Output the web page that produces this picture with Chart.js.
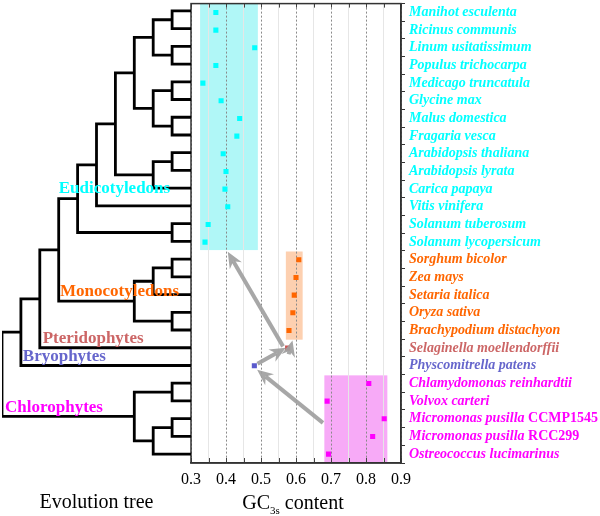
<!DOCTYPE html>
<html>
<head>
<meta charset="utf-8">
<script src="https://cdn.jsdelivr.net/npm/chart.js@4"></script>
<style>
  html, body { margin: 0; padding: 0; background: #fff; overflow: hidden; }
  #wrap { position: relative; width: 600px; height: 516px; }
  canvas { position: absolute; top: 0; left: 0; }
</style>
</head>
<body>
<div id="wrap">
  <canvas id="main" width="600" height="516"></canvas>
  <canvas id="tree" width="191" height="516"></canvas>
</div>
<script>
// ---------------- data ----------------
const species = [
  'Manihot esculenta', 'Ricinus communis', 'Linum usitatissimum', 'Populus trichocarpa',
  'Medicago truncatula', 'Glycine max', 'Malus domestica', 'Fragaria vesca',
  'Arabidopsis thaliana', 'Arabidopsis lyrata', 'Carica papaya', 'Vitis vinifera',
  'Solanum tuberosum', 'Solanum lycopersicum',
  'Sorghum bicolor', 'Zea mays', 'Setaria italica', 'Oryza sativa', 'Brachypodium distachyon',
  'Selaginella moellendorffii', 'Physcomitrella patens',
  'Chlamydomonas reinhardtii', 'Volvox carteri', 'Micromonas pusilla', 'Micromonas pusilla',
  'Ostreococcus lucimarinus'
];
const strains = ['', '', '', '', '', '', '', '', '', '', '', '', '', '',
  '', '', '', '', '', '', '', '', '', 'CCMP1545', 'RCC299', ''];
const gc3s = [
  0.371, 0.371, 0.482, 0.371, 0.334, 0.386, 0.439, 0.431, 0.392, 0.400, 0.397, 0.405,
  0.349, 0.340,
  0.608, 0.600, 0.595, 0.591, 0.580,
  0.576, 0.481,
  0.808, 0.689, 0.852, 0.819, 0.693
];
const groupOf = [0,0,0,0,0,0,0,0,0,0,0,0,0,0, 1,1,1,1,1, 2, 3, 4,4,4,4,4];
const groupNames = ['Eudicotyledons', 'Monocotyledons', 'Pteridophytes', 'Bryophytes', 'Chlorophytes'];
const groupColors = ['#00ffff', '#ff6600', '#cc6666', '#6666cc', '#ff00ff'];
const pointColors = ['#00ffff', '#ff6600', '#cc5555', '#5a5acc', '#ff00ff'];
// GC3s ranges of the shaded boxes (x range) and the rows they span
const boxGC = [[0.326, 0.491], [0.571, 0.619], [0.681, 0.861]];
const boxRows = [[0.5, 14.45], [14.53, 19.52], [21.54, 26.5]];
const boxColors = ['#b0f7f7', '#fdd0b0', '#f7aaf7'];
// arrows: [gcFrom, rowFrom, gcTo, rowTo]
const arrows = [
  [0.563, 19.9, 0.405, 14.55],
  [0.490, 20.88, 0.571, 19.98],
  [0.579, 20.35, 0.590, 19.56],
  [0.677, 24.23, 0.489, 21.22]
];
const xTickStep = 0.05;
// phylogeny: leaves are row numbers, internal nodes have a depth level l (0 = root, 10 = tips)
const tree = {l:0, c:[
  {l:1, c:[
    {l:2, c:[
      {l:3, c:[
        {l:4, c:[
          {l:5, c:[
            {l:6, c:[
              {l:7, c:[
                {l:8, c:[{l:9, c:[1,2]}, {l:9, c:[3,4]}]},
                {l:8, c:[{l:9, c:[5,6]}, {l:9, c:[7,8]}]}
              ]},
              {l:8, c:[{l:9, c:[9,10]}, 11]}
            ]},
            12
          ]},
          {l:9, c:[13,14]}
        ]},
        {l:7, c:[{l:8, c:[{l:9, c:[15,16]}, 17]}, {l:9, c:[18,19]}]}
      ]},
      20
    ]},
    21
  ]},
  {l:7, c:[{l:9, c:[22,23]}, {l:8, c:[{l:9, c:[24,25]}, 26]}]}
]};
const tipLevel = 10;
// group label anchor (tree level, row)
const groupLabelPos = [[3.0, 11.05], [3.07, 16.84], [2.15, 19.5], [1.1, 20.5], [0.16, 23.38]];

// ---------------- helpers ----------------
const SERIF = "'Liberation Serif', 'Times New Roman', serif";
const isMajor = v => Math.abs(Math.round(v * 10) - v * 10) < 1e-6;
const nRows = species.length;

function drawArrow(ctx, x0, y0, x1, y1) {
  const a = Math.atan2(y1 - y0, x1 - x0);
  const hl = 16, hw = 14, notch = 11;
  const ca = Math.cos(a), sa = Math.sin(a);
  const bx = x1 - notch * ca, by = y1 - notch * sa;
  ctx.beginPath();
  ctx.moveTo(x0, y0);
  ctx.lineTo(bx, by);
  ctx.stroke();
  const rx = x1 - hl * ca, ry = y1 - hl * sa;
  ctx.beginPath();
  ctx.moveTo(x1, y1);
  ctx.lineTo(rx + hw / 2 * sa, ry - hw / 2 * ca);
  ctx.lineTo(bx, by);
  ctx.lineTo(rx - hw / 2 * sa, ry + hw / 2 * ca);
  ctx.closePath();
  ctx.fill();
}

const mainPlugin = {
  id: 'mainDeco',
  beforeDraw(chart) {
    const {ctx, scales: {x, y}} = chart;
    ctx.save();
    boxGC.forEach((b, i) => {
      const x0 = x.getPixelForValue(b[0]), x1 = x.getPixelForValue(b[1]);
      const y0 = y.getPixelForValue(boxRows[i][0]), y1 = y.getPixelForValue(boxRows[i][1]);
      ctx.fillStyle = boxColors[i];
      ctx.fillRect(x0, y0, x1 - x0, y1 - y0);
    });
    ctx.restore();
  },
  afterDatasetsDraw(chart) {
    const {ctx, scales: {x, y}} = chart;
    ctx.save();
    ctx.strokeStyle = 'rgba(160,160,160,0.92)';
    ctx.fillStyle = 'rgba(160,160,160,0.92)';
    ctx.lineWidth = 4;
    arrows.forEach(a => drawArrow(ctx, x.getPixelForValue(a[0]), y.getPixelForValue(a[1]),
                                       x.getPixelForValue(a[2]), y.getPixelForValue(a[3])));
    ctx.restore();
  },
  afterDraw(chart) {
    const {ctx, chartArea: ca, scales: {x, y}} = chart;
    ctx.save();
    // inner ticks top & bottom
    ctx.strokeStyle = '#444';
    ctx.lineWidth = 1;
    x.ticks.forEach(t => {
      const px = Math.round(x.getPixelForValue(t.value)) + 0.5;
      ctx.beginPath();
      ctx.moveTo(px, ca.bottom); ctx.lineTo(px, ca.bottom - 5);
      ctx.moveTo(px, ca.top); ctx.lineTo(px, ca.top + 4);
      ctx.stroke();
    });
    // frame
    ctx.strokeStyle = '#333';
    ctx.lineWidth = 1.5;
    ctx.strokeRect(ca.left, ca.top, ca.right - ca.left, ca.bottom - ca.top);
    // species labels
    ctx.textBaseline = 'middle';
    ctx.textAlign = 'left';
    species.forEach((s, i) => {
      const py = y.getPixelForValue(i + 1);
      const px = ca.right + 8;
      ctx.fillStyle = groupColors[groupOf[i]];
      ctx.font = 'italic bold 14px ' + SERIF;
      ctx.fillText(s, px, py);
      if (strains[i]) {
        const w = ctx.measureText(s + ' ').width;
        ctx.font = 'bold 14px ' + SERIF;
        ctx.fillText(strains[i], px + w, py);
      }
    });
    // x title GC3s content
    ctx.fillStyle = '#000';
    ctx.textBaseline = 'alphabetic';
    ctx.font = '20px ' + SERIF;
    const wGC = ctx.measureText('GC').width;
    const wC = ctx.measureText(' content').width;
    ctx.font = '11px ' + SERIF;
    const wSub = ctx.measureText('3s').width;
    const total = wGC + wSub + wC;
    let sx = (ca.left + ca.right) / 2 - 3 - total / 2;
    const base = 509;
    ctx.font = '20px ' + SERIF;
    ctx.fillText('GC', sx, base);
    ctx.font = '11px ' + SERIF;
    ctx.fillText('3s', sx + wGC, base + 5);
    ctx.font = '20px ' + SERIF;
    ctx.fillText(' content', sx + wGC + wSub, base);
    ctx.restore();
  }
};

const mainChart = new Chart(document.getElementById('main'), {
  type: 'scatter',
  data: {
    datasets: groupNames.map((g, gi) => ({
      label: g,
      data: gc3s.map((v, i) => ({x: v, y: i + 1, g: groupOf[i]})).filter(p => p.g === gi),
      backgroundColor: pointColors[gi],
      borderWidth: 0,
      pointStyle: 'rect',
      pointRadius: 3.6,
      pointHoverRadius: 3.6
    }))
  },
  options: {
    responsive: false,
    animation: false,
    events: [],
    layout: {padding: {left: 191, top: 2, right: 0, bottom: 0}},
    plugins: {legend: {display: false}, tooltip: {enabled: false}},
    scales: {
      x: {
        type: 'linear', min: 0.3, max: 0.9, position: 'bottom',
        afterFit: s => { s.height = 53; },
        ticks: {
          stepSize: xTickStep, autoSkip: false, maxRotation: 0, padding: 7,
          color: '#000', font: {family: SERIF, size: 16},
          callback: v => isMajor(v) ? v.toFixed(1) : ''
        },
        grid: {
          drawTicks: false, lineWidth: 1,
          color: c => (c.tick && isMajor(c.tick.value)) ? '#8a8a8a' : '#e6e6e6'
        },
        border: {
          display: true, color: '#333', width: 1.5,
          dash: c => (c.tick && isMajor(c.tick.value)) ? [2, 2] : []
        }
      },
      y: {
        type: 'linear', position: 'right', min: 0.5, max: nRows + 0.5, reverse: true,
        afterFit: s => { s.width = 199; },
        ticks: {stepSize: 1, includeBounds: false, display: false},
        grid: {drawOnChartArea: false, drawTicks: true, tickLength: 4, color: '#333', lineWidth: 1},
        border: {display: true, color: '#333', width: 1.5}
      }
    }
  },
  plugins: [mainPlugin]
});

// ---------------- tree ----------------
const treePts = [];
function build(node) {
  if (typeof node === 'number') return {y: node, l: tipLevel};
  const ch = node.c.map(build);
  treePts.push({x: ch[0].l, y: ch[0].y}, {x: node.l, y: ch[0].y},
               {x: node.l, y: ch[1].y}, {x: ch[1].l, y: ch[1].y},
               {x: node.l, y: null});
  return {y: (ch[0].y + ch[1].y) / 2, l: node.l};
}
build(tree);

const treePlugin = {
  id: 'treeDeco',
  afterDatasetsDraw(chart) {
    const {ctx, scales: {x, y}} = chart;
    ctx.save();
    ctx.font = 'bold 17px ' + SERIF;
    ctx.textBaseline = 'middle';
    ctx.textAlign = 'left';
    groupNames.forEach((g, i) => {
      ctx.fillStyle = groupColors[i];
      ctx.fillText(g, x.getPixelForValue(groupLabelPos[i][0]), y.getPixelForValue(groupLabelPos[i][1]));
    });
    ctx.restore();
  },
  afterDraw(chart) {
    const {ctx, chartArea: ca} = chart;
    ctx.save();
    ctx.font = '20px ' + SERIF;
    ctx.fillStyle = '#000';
    ctx.textAlign = 'center';
    ctx.textBaseline = 'alphabetic';
    ctx.fillText('Evolution tree', (ca.left + ca.right) / 2, 508);
    ctx.restore();
  }
};

new Chart(document.getElementById('tree'), {
  type: 'line',
  data: {
    datasets: [{
      data: treePts,
      borderColor: '#000',
      borderWidth: 2.8,
      borderJoinStyle: 'miter',
      borderCapStyle: 'butt',
      pointRadius: 0,
      tension: 0,
      spanGaps: false,
      fill: false
    }]
  },
  options: {
    responsive: false,
    animation: false,
    events: [],
    layout: {padding: {left: 2, right: 0, top: 2, bottom: 53}},
    plugins: {legend: {display: false}, tooltip: {enabled: false}},
    scales: {
      x: {type: 'linear', min: 0, max: tipLevel, display: false},
      y: {type: 'linear', min: 0.5, max: nRows + 0.5, reverse: true, display: false}
    }
  },
  plugins: [treePlugin]
});
</script>
</body>
</html>
